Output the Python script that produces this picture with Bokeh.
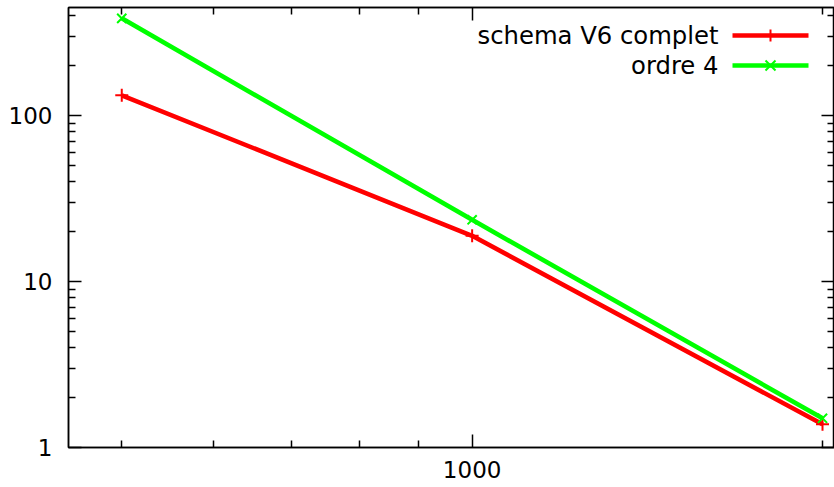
import numpy as np
from bokeh.plotting import figure
from bokeh.models import LogAxis, FixedTicker, Label, Arrow, Range1d, CustomJSTickFormatter
from bokeh.embed import file_html
from bokeh.resources import INLINE

# ---- data ----
n_points = [500, 1000, 2000]
schema_v6_complet = [133, 18.9, 1.38]
ordre_4 = [387, 23.6, 1.5]

x_major = [1000]
x_minor = [500, 600, 700, 800, 900, 2000]
y_major = [1, 10, 100]
y_minor = [2, 3, 4, 5, 6, 7, 8, 9, 20, 30, 40, 50, 60, 70, 80, 90, 200, 300, 400]

series_names = ["schema V6 complet", "ordre 4"]
series_colors = ["#ff0000", "#00ff00"]

FONT = "DejaVu Sans"
FS = "23px"
LEG_FS = "24.3px"
LW = 4.6

p = figure(width=834, height=487, x_axis_type="log", y_axis_type="log",
           x_range=Range1d(450, 2048), y_range=Range1d(1, 450),
           output_backend="svg", toolbar_location=None,
           min_border_left=68, min_border_right=0, min_border_top=7, min_border_bottom=40,
           x_axis_location="below", y_axis_location="left")
p.grid.visible = False
p.outline_line_color = "black"
p.outline_line_width = 1.5
p.background_fill_color = "white"
p.border_fill_color = "white"

fmt = CustomJSTickFormatter(code="return tick.toFixed(0);")
blank = CustomJSTickFormatter(code="return '';")


def style(ax, major, minor, labels=True, standoff=16):
    ax.ticker = FixedTicker(ticks=major, minor_ticks=minor)
    ax.formatter = fmt
    ax.major_tick_in = 13
    ax.major_tick_out = 0
    ax.minor_tick_in = 7
    ax.minor_tick_out = 0
    ax.axis_line_width = 1.5
    ax.major_tick_line_width = 1.5
    ax.minor_tick_line_width = 1.5
    ax.axis_line_color = "black"
    ax.major_tick_line_color = "black"
    ax.minor_tick_line_color = "black"
    ax.major_label_text_font = FONT
    ax.major_label_text_font_size = FS
    ax.major_label_text_color = "black"
    ax.major_label_standoff = standoff
    if not labels:
        ax.formatter = blank
        ax.major_label_text_font_size = "0px"
        ax.major_label_standoff = 0


style(p.xaxis[0], x_major, x_minor, standoff=13)
style(p.yaxis[0], y_major, y_minor, standoff=16)
top = LogAxis()
style(top, x_major, x_minor, labels=False)
p.add_layout(top, "above")
right = LogAxis()
style(right, y_major, y_minor, labels=False)
p.add_layout(right, "right")

markers = ["cross", "x"]
for ys, c, m in zip([schema_v6_complet, ordre_4], series_colors, markers):
    p.line(n_points, ys, line_color=c, line_width=LW)
    p.scatter(n_points, ys, marker=m, size=13, line_color=c, line_width=2)

# ---- legend (gnuplot style: text then sample) ----
text_right = 650
sample_x0, sample_x1 = 664, 740
legend_y = [412, 382]
for i, (name, c) in enumerate(zip(series_names, series_colors)):
    y = legend_y[i]
    p.add_layout(Label(x=text_right, y=y, x_units="screen", y_units="screen", text=name,
                       text_align="right", text_baseline="middle", text_font=FONT,
                       text_font_size=LEG_FS, text_color="black"))
    p.add_layout(Arrow(x_start=sample_x0, y_start=y, x_end=sample_x1, y_end=y,
                       start_units="screen", end_units="screen", end=None,
                       line_color=c, line_width=LW))
    xm = (sample_x0 + sample_x1) / 2
    if i == 0:
        segs = [(xm, y - 6, xm, y + 6), (xm - 6, y, xm + 6, y)]
    else:
        segs = [(xm - 5, y - 5, xm + 5, y + 5), (xm - 5, y + 5, xm + 5, y - 5)]
    for (a, b, cc, d) in segs:
        p.add_layout(Arrow(x_start=a, y_start=b, x_end=cc, y_end=d,
                           start_units="screen", end_units="screen", end=None,
                           line_color=c, line_width=2))

open("out.html", "w").write(file_html(p, INLINE))
